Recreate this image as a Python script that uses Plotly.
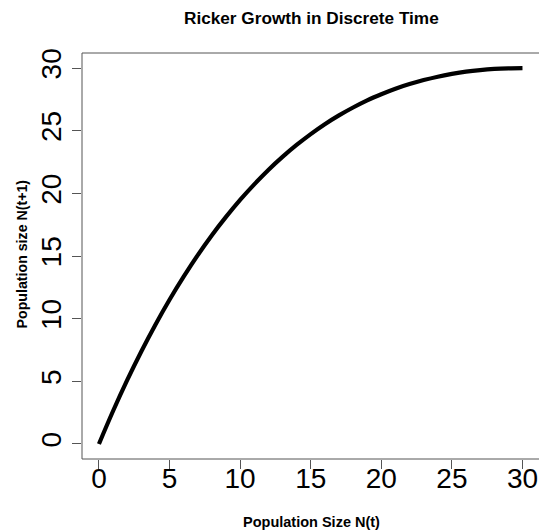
import plotly.graph_objects as go

# Population at time t
n_t = list(range(0, 31))

# Population at time t+1 (Ricker map)
n_next = [0.0, 2.63, 5.09, 7.38, 9.52, 11.51, 13.35, 15.07, 16.66, 18.12,
          19.48, 20.72, 21.87, 22.91, 23.86, 24.73, 25.52, 26.22, 26.85, 27.42,
          27.91, 28.35, 28.72, 29.04, 29.31, 29.53, 29.71, 29.84, 29.93, 29.98,
          30.0]

tick_vals = [0, 5, 10, 15, 20, 25, 30]

FONT = "Liberation Sans, Arial, Helvetica, sans-serif"
AXIS_GRAY = "#555555"

fig = go.Figure()
fig.add_trace(go.Scatter(
    x=n_t, y=n_next, mode="lines",
    line=dict(color="black", width=4.2, shape="spline", smoothing=1.0),
    hoverinfo="skip", showlegend=False,
))

W, H = 539, 532
L, R, T, B = 82, 0, 53, 73

fig.update_layout(
    width=W, height=H,
    margin=dict(l=L, r=R, t=T, b=B, autoexpand=False),
    paper_bgcolor="white", plot_bgcolor="white",
    font=dict(family=FONT, color="black"),
    showlegend=False,
)

fig.update_xaxes(
    range=[-1.2, 31.17], tickvals=tick_vals, ticktext=[str(v) for v in tick_vals],
    ticks="outside", ticklen=9, tickwidth=1, tickcolor=AXIS_GRAY,
    showline=False, showgrid=False, zeroline=False, ticklabelstandoff=-15,
    tickfont=dict(size=28, family=FONT, color="black"),
)
fig.update_yaxes(
    range=[-1.2, 31.2], tickvals=tick_vals, ticktext=[str(v) for v in tick_vals],
    ticks="outside", ticklen=9, tickwidth=1, tickcolor=AXIS_GRAY,
    showline=False, showgrid=False, zeroline=False, tickangle=-90,
    tickfont=dict(size=28, family=FONT, color="black"),
)

# Open box around the plotting region: left, bottom and top edges
for x0, y0, x1, y1 in [(0, 0, 0, 1), (0, 0, 1, 0), (0, 1, 1, 1)]:
    fig.add_shape(type="line", xref="paper", yref="paper",
                  x0=x0, y0=y0, x1=x1, y1=y1,
                  line=dict(color=AXIS_GRAY, width=1))

# Title and axis labels placed in pixel terms relative to the paper
def px_x(x):
    return (x - L) / (W - L - R)

def px_y(y):
    return 1 - (y - T) / (H - T - B)

fig.add_annotation(
    text="<b>Ricker Growth in Discrete Time</b>", xref="paper", yref="paper",
    x=px_x(311.5), y=px_y(18.5), showarrow=False, xanchor="center", yanchor="middle",
    font=dict(size=17.2, family=FONT, color="black"),
)
fig.add_annotation(
    text="<b>Population Size N(t)</b>", xref="paper", yref="paper",
    x=px_x(311.5), y=px_y(521.5), showarrow=False, xanchor="center", yanchor="middle",
    font=dict(size=14.5, family=FONT, color="black"),
)
fig.add_annotation(
    text="<b>Population size N(t+1)</b>", xref="paper", yref="paper",
    x=px_x(21.5), y=px_y(254), showarrow=False, xanchor="center", yanchor="middle",
    textangle=-90, font=dict(size=14.2, family=FONT, color="black"),
)

fig.write_html("out.html")
